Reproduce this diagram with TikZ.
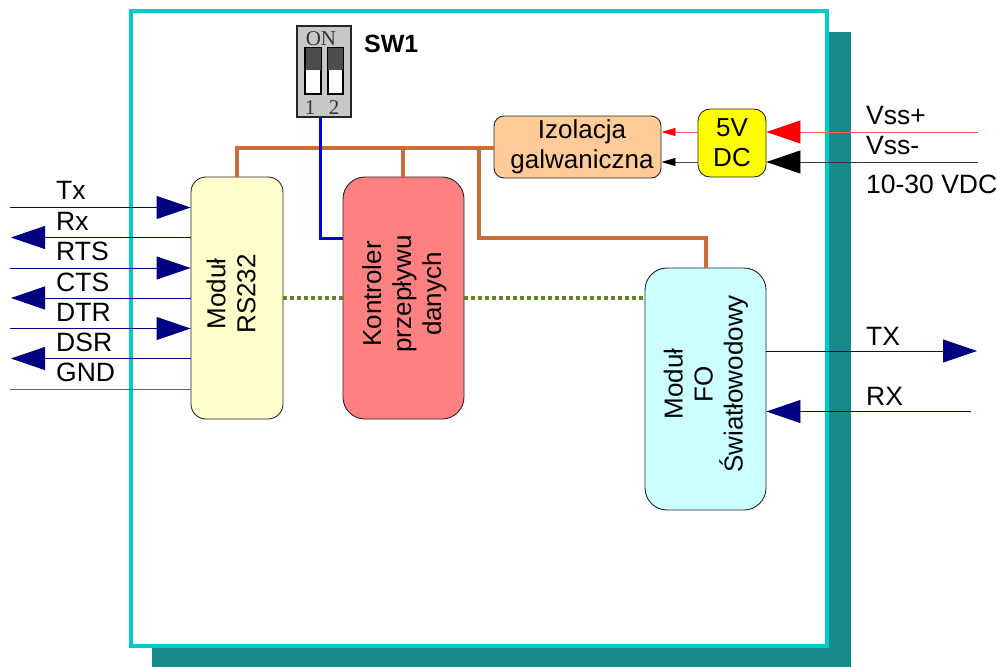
\documentclass[tikz,border=0pt]{standalone}
\usepackage{fontspec}
\setmainfont{Liberation Sans}
\newfontfamily\dipfont{Liberation Serif}
\usepackage{tikz}
\usetikzlibrary{arrows.meta, positioning}
\definecolor{rsfill}{RGB}{255,255,204}
\definecolor{ctrlfill}{RGB}{255,128,128}
\definecolor{fofill}{RGB}{204,255,255}
\definecolor{izolfill}{RGB}{255,204,153}
\definecolor{dcfill}{RGB}{255,255,0}
\definecolor{framecyan}{RGB}{0,204,204}
\definecolor{shadowteal}{RGB}{23,138,138}
\definecolor{busorange}{RGB}{204,108,56}
\definecolor{swblue}{RGB}{0,0,230}
\definecolor{datagreen}{RGB}{94,135,36}
\definecolor{signavy}{RGB}{0,0,128}
\definecolor{vssred}{RGB}{255,0,0}
\definecolor{dipgray}{RGB}{200,200,200}
\definecolor{dipdark}{RGB}{77,77,77}
\tikzset{
  block/.style={rectangle, draw=black!85, line width=0.9pt, inner sep=0pt},
  blocktext/.style={rotate=90, align=center, inner sep=0pt, font=\fontsize{26}{30}\selectfont},
  boxtext/.style={align=center, font=\fontsize{26}{30}\selectfont},
  sig/.style={anchor=base west, inner sep=0pt, font=\fontsize{26.5}{30}\selectfont},
  navyin/.style={-{Triangle[length=34pt,width=23pt]}, line width=0.9pt, color=signavy},
  grayline/.style={line width=1pt, color=black!60},
  bus/.style={line width=3.5pt, color=busorange},
  datalink/.style={line width=3.5pt, color=datagreen, dash pattern=on 4pt off 3pt},
  slider/.style={rectangle, draw=black, line width=1.4pt, fill=white, minimum width=15pt, minimum height=46pt, inner sep=0pt},
  dipnum/.style={inner sep=0pt, anchor=base, font=\fontsize{21}{21}\selectfont\dipfont, text=black!80},
}
\begin{document}
\begin{tikzpicture}[x=1pt, y=-1pt]
  \useasboundingbox (0,0) rectangle (997,667);
  \fill[shadowteal] (152,32) rectangle (851,667);
  \draw[framecyan, line width=3.6pt, fill=white] (131,11) rectangle (827,646);

  \node[block, fill=rsfill, rounded corners=15pt, minimum width=92pt, minimum height=242pt] (rs232) at (237,298) {};
  \node[block, fill=ctrlfill, rounded corners=22pt, minimum width=121pt, minimum height=242pt] (ctrl) at (403.5,298) {};
  \node[block, fill=fofill, rounded corners=22pt, minimum width=121pt, minimum height=242pt] (fo) at (705.5,389) {};
  \node[block, fill=izolfill, rounded corners=10pt, minimum width=167pt, minimum height=62pt] (izol) at (577.5,147) {};
  \node[block, fill=dcfill, rounded corners=12pt, minimum width=68pt, minimum height=68pt] (dc) at (732,143) {};
  \node[rectangle, draw=black!85, line width=1.4pt, fill=dipgray, minimum width=54pt, minimum height=91pt, inner sep=0pt] (sw1) at (324,71.5) {};

  % dip switch
  \node[slider] (slidera) at (313,71) {};
  \node[slider] (sliderb) at (335.5,71) {};
  \fill[dipdark] (slidera.north west) rectangle ([yshift=-23pt]slidera.north east);
  \fill[dipdark] (sliderb.north west) rectangle ([yshift=-23pt]sliderb.north east);
  \draw[black, line width=1.4pt] (slidera.north west) rectangle (slidera.south east);
  \draw[black, line width=1.4pt] (sliderb.north west) rectangle (sliderb.south east);
  \node[dipnum] (on) at (321,45) {ON};
  \node[dipnum] (one) at (310,114) {1};
  \node[dipnum] (two) at (334,114) {2};
  \node[anchor=base west, inner sep=0pt, font=\fontsize{25}{27}\selectfont\bfseries] (swlabel) at (364,52) {SW1};

  \node[blocktext] (rs232txt) at (231,294) {Moduł\\RS232};
  \node[blocktext] (ctrltxt) at (404.5,294) {Kontroler\\przepływu\\danych};
  \node[blocktext] (fotxt) at (706,384) {Moduł\\FO\\Światłowodowy};
  \node[boxtext] (izoltxt) at (582,147) {Izolacja\\galwaniczna};
  \node[boxtext] (dctxt) at (732,143) {5V\\DC};

  % power and data rails
  \coordinate (busl) at (237,148);
  \coordinate (busm) at (403,148);
  \coordinate (busr) at (479,148);
  \coordinate (busd) at (479,238);
  \coordinate (busf) at (706,238);
  \coordinate (swd) at (320,238);
  \draw[bus] (rs232.north -| busl) -- (busl) -- (izol.west |- busl);
  \draw[bus] (busm) -- (ctrl.north -| busm);
  \draw[bus] (busr) -- (busd) -- (busf) -- (fo.north -| busf);
  \draw[swblue, line width=3pt] (sw1.south -| swd) -- (swd) -- (ctrl.west |- swd);
  \draw[datalink] (rs232.east |- ctrl.center) -- (ctrl.west);
  \draw[datalink] (ctrl.east) -- (fo.west |- ctrl.center);

  % rs232 lines
  \coordinate (txp) at (10,207.5);
  \coordinate (rxp) at (11,237.5);
  \coordinate (rtsp) at (10,268);
  \coordinate (ctsp) at (11,298);
  \coordinate (dtrp) at (10,328.5);
  \coordinate (dsrp) at (11,358.5);
  \coordinate (gndp) at (10,389);
  \draw[navyin] (txp) -- (rs232.west |- txp);
  \draw[navyin] (rs232.west |- rxp) -- (rxp);
  \draw[navyin] (rtsp) -- (rs232.west |- rtsp);
  \draw[navyin] (rs232.west |- ctsp) -- (ctsp);
  \draw[navyin] (dtrp) -- (rs232.west |- dtrp);
  \draw[navyin] (rs232.west |- dsrp) -- (dsrp);
  \draw[grayline] (gndp) -- (rs232.west |- gndp);
  \node[sig] (txl) at (56,199) {Tx};
  \node[sig] (rxl) at (56,230) {Rx};
  \node[sig] (rtsl) at (56,260) {RTS};
  \node[sig] (ctsl) at (56,291) {CTS};
  \node[sig] (dtrl) at (56,321) {DTR};
  \node[sig] (dsrl) at (56,351) {DSR};
  \node[sig] (gndl) at (56,381) {GND};

  % supply
  \coordinate (vssp) at (978,132);
  \coordinate (vssm) at (978,162);
  \draw[-{Triangle[length=34pt,width=23pt,color=vssred]}, line width=0.9pt, color=vssred!65] (vssp) -- (dc.east |- vssp);
  \draw[-{Triangle[length=34pt,width=23pt,color=black]}, line width=0.9pt, color=black!80] (vssm) -- (dc.east |- vssm);
  \draw[-{Triangle[length=14pt,width=8pt,color=vssred]}, line width=0.9pt, color=vssred!65] (dc.west |- vssp) -- (izol.east |- vssp);
  \draw[-{Triangle[length=14pt,width=8pt,color=black]}, line width=0.9pt, color=black!70] (dc.west |- vssm) -- (izol.east |- vssm);
  \node[sig] (vsspl) at (866,124) {Vss+};
  \node[sig] (vssml) at (866,154) {Vss-};
  \node[sig] (vdcl) at (866,193) {10-30 VDC};

  % fibre side
  \coordinate (txo) at (977,351);
  \coordinate (rxo) at (971,411.5);
  \draw[navyin] (fo.east |- txo) -- (txo);
  \draw[navyin] (rxo) -- (fo.east |- rxo);
  \node[sig] (txol) at (866,345) {TX};
  \node[sig] (rxol) at (866,405) {RX};
\end{tikzpicture}
\end{document}
